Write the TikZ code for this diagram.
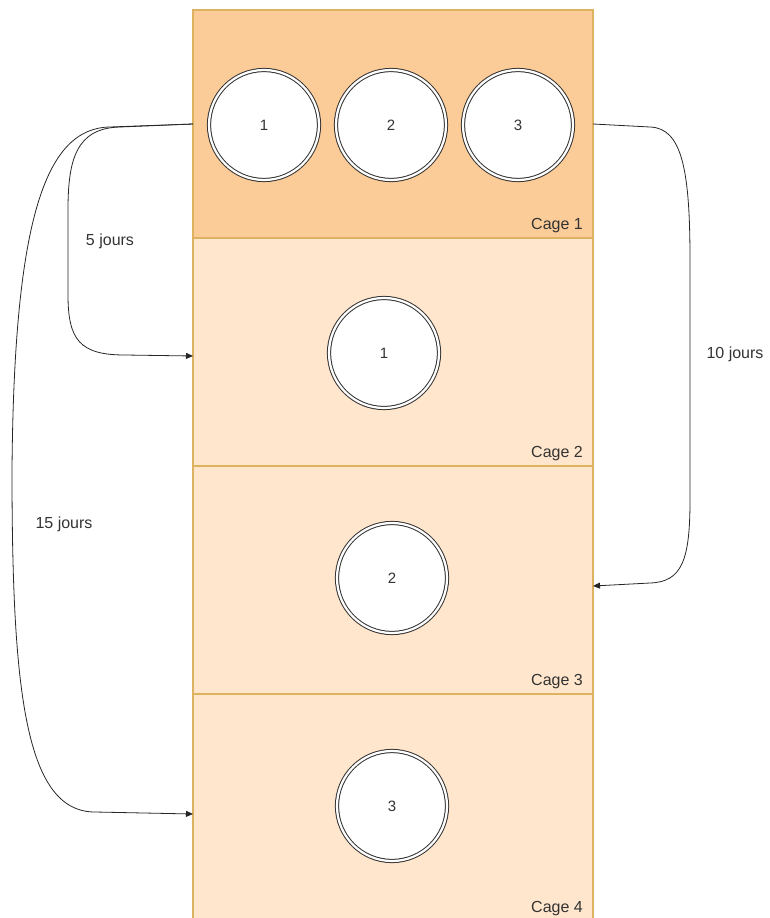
\documentclass[tikz,border=0pt]{standalone}
\usepackage{fontspec}
\setmainfont{Liberation Sans}
\usetikzlibrary{arrows.meta}
\definecolor{cagedark}{HTML}{FBCB98}
\definecolor{cagelight}{HTML}{FFE6CC}
\definecolor{cagestroke}{RGB}{221,178,96}
\definecolor{txt}{HTML}{333333}
\definecolor{ringc}{HTML}{333333}
\tikzset{
  cagebox/.style={draw=cagestroke, line width=1.3pt, minimum width=400pt, minimum height=228pt, inner sep=0pt, outer sep=0pt},
  ring/.style={circle, draw=ringc, line width=1pt, double=white, double distance=2.2pt, fill=white, minimum size=110pt, inner sep=0pt, font=\fontsize{15}{17}\selectfont, text=txt},
  cagelabel/.style={anchor=south east, inner sep=0pt, font=\fontsize{16}{18}\selectfont, text=txt},
  lbl/.style={inner sep=0pt, font=\fontsize{16}{18}\selectfont, text=txt},
  conn/.style={draw=black!85, line width=0.8pt, -{Triangle[length=7pt,width=6pt]}}
}
\begin{document}
\begin{tikzpicture}[x=1pt,y=-1pt]
\useasboundingbox (0,0) rectangle (769,918);
% cages
\node[cagebox, fill=cagelight] (c4) at (393,808) {};
\node[cagebox, fill=cagelight] (c3) at (393,580) {};
\node[cagebox, fill=cagelight] (c2) at (393,352) {};
\node[cagebox, fill=cagedark] (c1) at (393,124) {};
\node[cagelabel] (l1) at ([xshift=-10pt,yshift=5pt]c1.south east) {Cage 1};
\node[cagelabel] (l2) at ([xshift=-10pt,yshift=5pt]c2.south east) {Cage 2};
\node[cagelabel] (l3) at ([xshift=-10pt,yshift=5pt]c3.south east) {Cage 3};
\node[cagelabel] (l4) at (583,916) {Cage 4};
% rings
\node[ring] (r11) at (264,125) {1};
\node[ring] (r12) at (391,125) {2};
\node[ring] (r13) at (518,125) {3};
\node[ring] (r2) at (384,353) {1};
\node[ring] (r3) at (392,578) {2};
\node[ring] (r4) at (392,806) {3};
% connectors
\draw[conn] (c1.west) -- (120,127) .. controls (76,128) and (68,160) .. (68,210) -- (68,295) .. controls (68,340) and (80,355) .. (125,355) -- ([yshift=-4pt]c2.west);
\draw[conn] (c1.west) -- (110,127) .. controls (45,128) and (14,220) .. (12,470) .. controls (12,690) and (25,812) .. (95,812) -- ([yshift=-6pt]c4.west);
\draw[conn] (c1.east) -- (650,127) .. controls (682,128) and (690,170) .. (690,260) -- (690,500) .. controls (690,560) and (682,582) .. (650,583) -- ([yshift=-6pt]c3.east);
% labels
\node[lbl] (t5) at (110,241) {5 jours};
\node[lbl] (t10) at (735,354) {10 jours};
\node[lbl] (t15) at (64,524) {15 jours};
\end{tikzpicture}
\end{document}
